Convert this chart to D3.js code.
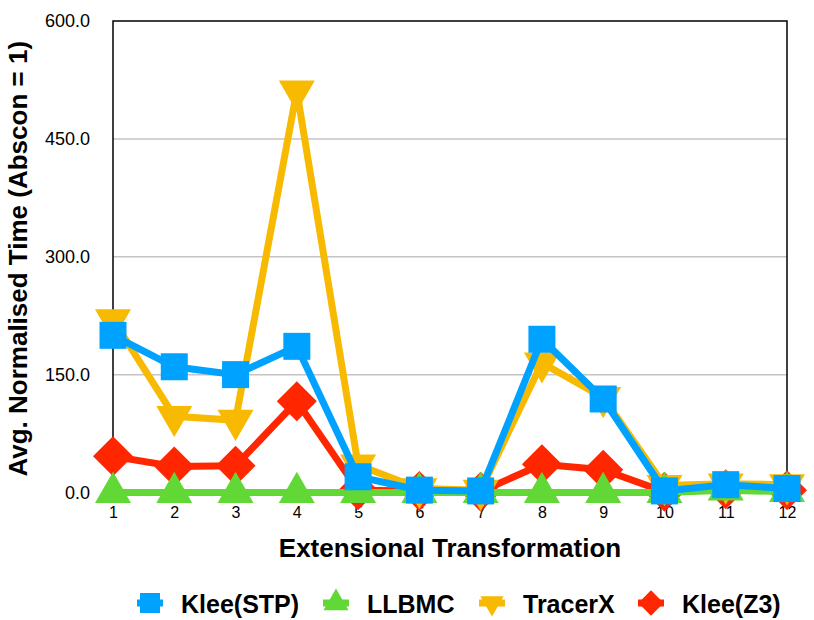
<!DOCTYPE html>
<html>
<head>
<meta charset="utf-8">
<script src="https://cdn.jsdelivr.net/npm/d3@7"></script>
<style>
body { margin: 0; background: #fff; }
text { font-family: "Liberation Sans", Arial, Helvetica, sans-serif; }
</style>
</head>
<body>
<div id="chart"></div>
<script>
// chart data
var categories = ['1', '2', '3', '4', '5', '6', '7', '8', '9', '10', '11', '12'];
var kleeSTP = [200, 160, 150, 186, 20, 3, 2, 195, 119, 2, 10, 5];
var llbmc = [0, 0, 0, 0, 0, 0, 0, 0, 0, 0, 3, 1];
var tracerX = [220, 97, 92, 511, 35, 5, 3, 165, 121, 9, 11, 10];
var kleeZ3 = [46, 33, 34, 116, 3, 2, 1, 36, 29, 1, 4, 3];
var seriesNames = ['Klee(STP)', 'LLBMC', 'TracerX', 'Klee(Z3)'];
var yTicks = [0, 150, 300, 450, 600];

// styles
var colors = ['#00a2ff', '#61d836', '#f8ba00', '#ff2600'];
var legendX = [150, 336, 492, 651];

// svg area
var svgWidth = 814;
var svgHeight = 620;

// margin around chart area
var margin = {
    top: 21,
    right: 27,
    bottom: 127.5,
    left: 113
};

var chartWidth = svgWidth - margin.left - margin.right;
var chartHeight = svgHeight - margin.top - margin.bottom;

var svg = d3.select('#chart')
    .append('svg')
    .attr('width', svgWidth)
    .attr('height', svgHeight);

var chartGroup = svg.append('g')
    .attr('transform', `translate(${margin.left}, ${margin.top})`);

// scales
var xScale = d3.scalePoint()
    .domain(categories)
    .range([0, chartWidth]);

var yScale = d3.scaleLinear()
    .domain([0, 600])
    .range([chartHeight, 0]);

// gridlines
chartGroup.selectAll('.grid')
    .data(yTicks.slice(1, -1))
    .enter()
    .append('line')
    .attr('class', 'grid')
    .attr('x1', 0)
    .attr('x2', chartWidth)
    .attr('y1', d => yScale(d))
    .attr('y2', d => yScale(d))
    .attr('stroke', '#c4c4c4')
    .attr('stroke-width', 1.5);

// frame
chartGroup.append('rect')
    .attr('x', 0)
    .attr('y', 0)
    .attr('width', chartWidth)
    .attr('height', chartHeight)
    .attr('fill', 'none')
    .attr('stroke', '#000')
    .attr('stroke-width', 1.5);

// axes
var leftAxis = d3.axisLeft(yScale)
    .tickValues(yTicks)
    .tickFormat(d3.format('.1f'))
    .tickSize(0)
    .tickPadding(23);

var bottomAxis = d3.axisBottom(xScale)
    .tickSize(0)
    .tickPadding(14);

var yAxis = chartGroup.append('g').call(leftAxis);
yAxis.select('.domain').remove();
yAxis.selectAll('text')
    .attr('font-size', 18)
    .attr('font-family', null)
    .attr('fill', '#000');

var xAxis = chartGroup.append('g')
    .attr('transform', `translate(0, ${chartHeight})`)
    .call(bottomAxis);
xAxis.select('.domain').remove();
xAxis.selectAll('text')
    .attr('font-size', 16)
    .attr('font-family', null)
    .attr('fill', '#000');

// axis titles
chartGroup.append('text')
    .attr('x', chartWidth / 2)
    .attr('y', chartHeight + 64)
    .attr('text-anchor', 'middle')
    .attr('font-size', 26)
    .attr('font-weight', 'bold')
    .text('Extensional Transformation');

chartGroup.append('text')
    .attr('transform', `translate(${27 - margin.left}, ${chartHeight / 2 + 2}) rotate(-90)`)
    .attr('text-anchor', 'middle')
    .attr('font-size', 26)
    .attr('font-weight', 'bold')
    .text('Avg. Normalised Time (Abscon = 1)');

// marker shapes
var shapes = [
    { type: d3.symbolSquare, size: 27 * 27, rot: 0 },
    { type: d3.symbolTriangle, size: 561, rot: 0 },
    { type: d3.symbolTriangle, size: 561, rot: 180 },
    { type: d3.symbolSquare, size: 800, rot: 45 }
];
var legendScale = [0.55, 0.48, 0.42, 0.4];

var seriesValues = [kleeSTP, llbmc, tracerX, kleeZ3];

var line = d3.line()
    .x((d, i) => xScale(categories[i]))
    .y(d => yScale(d));

// draw series, last one first so Klee(STP) sits on top
[3, 2, 1, 0].forEach(s => {
    var g = chartGroup.append('g');
    g.append('path')
        .datum(seriesValues[s])
        .attr('d', line)
        .attr('fill', 'none')
        .attr('stroke', colors[s])
        .attr('stroke-width', 7);
    g.selectAll('path.marker')
        .data(seriesValues[s])
        .enter()
        .append('path')
        .attr('class', 'marker')
        .attr('d', d3.symbol(shapes[s].type, shapes[s].size))
        .attr('transform', (d, i) => `translate(${xScale(categories[i])}, ${yScale(d)}) rotate(${shapes[s].rot})`)
        .attr('fill', colors[s]);
});

// legend
var legend = svg.append('g');
seriesNames.forEach((name, s) => {
    var item = legend.append('g')
        .attr('transform', `translate(${legendX[s]}, 603)`);
    item.append('line')
        .attr('x1', -13)
        .attr('x2', 13)
        .attr('stroke', colors[s])
        .attr('stroke-width', 7);
    item.append('path')
        .attr('d', d3.symbol(shapes[s].type, shapes[s].size * legendScale[s]))
        .attr('transform', `rotate(${shapes[s].rot})`)
        .attr('fill', colors[s]);
    item.append('text')
        .attr('x', 31)
        .attr('y', 10)
        .attr('font-size', 25)
        .attr('font-weight', 'bold')
        .text(name);
});
</script>
</body>
</html>
